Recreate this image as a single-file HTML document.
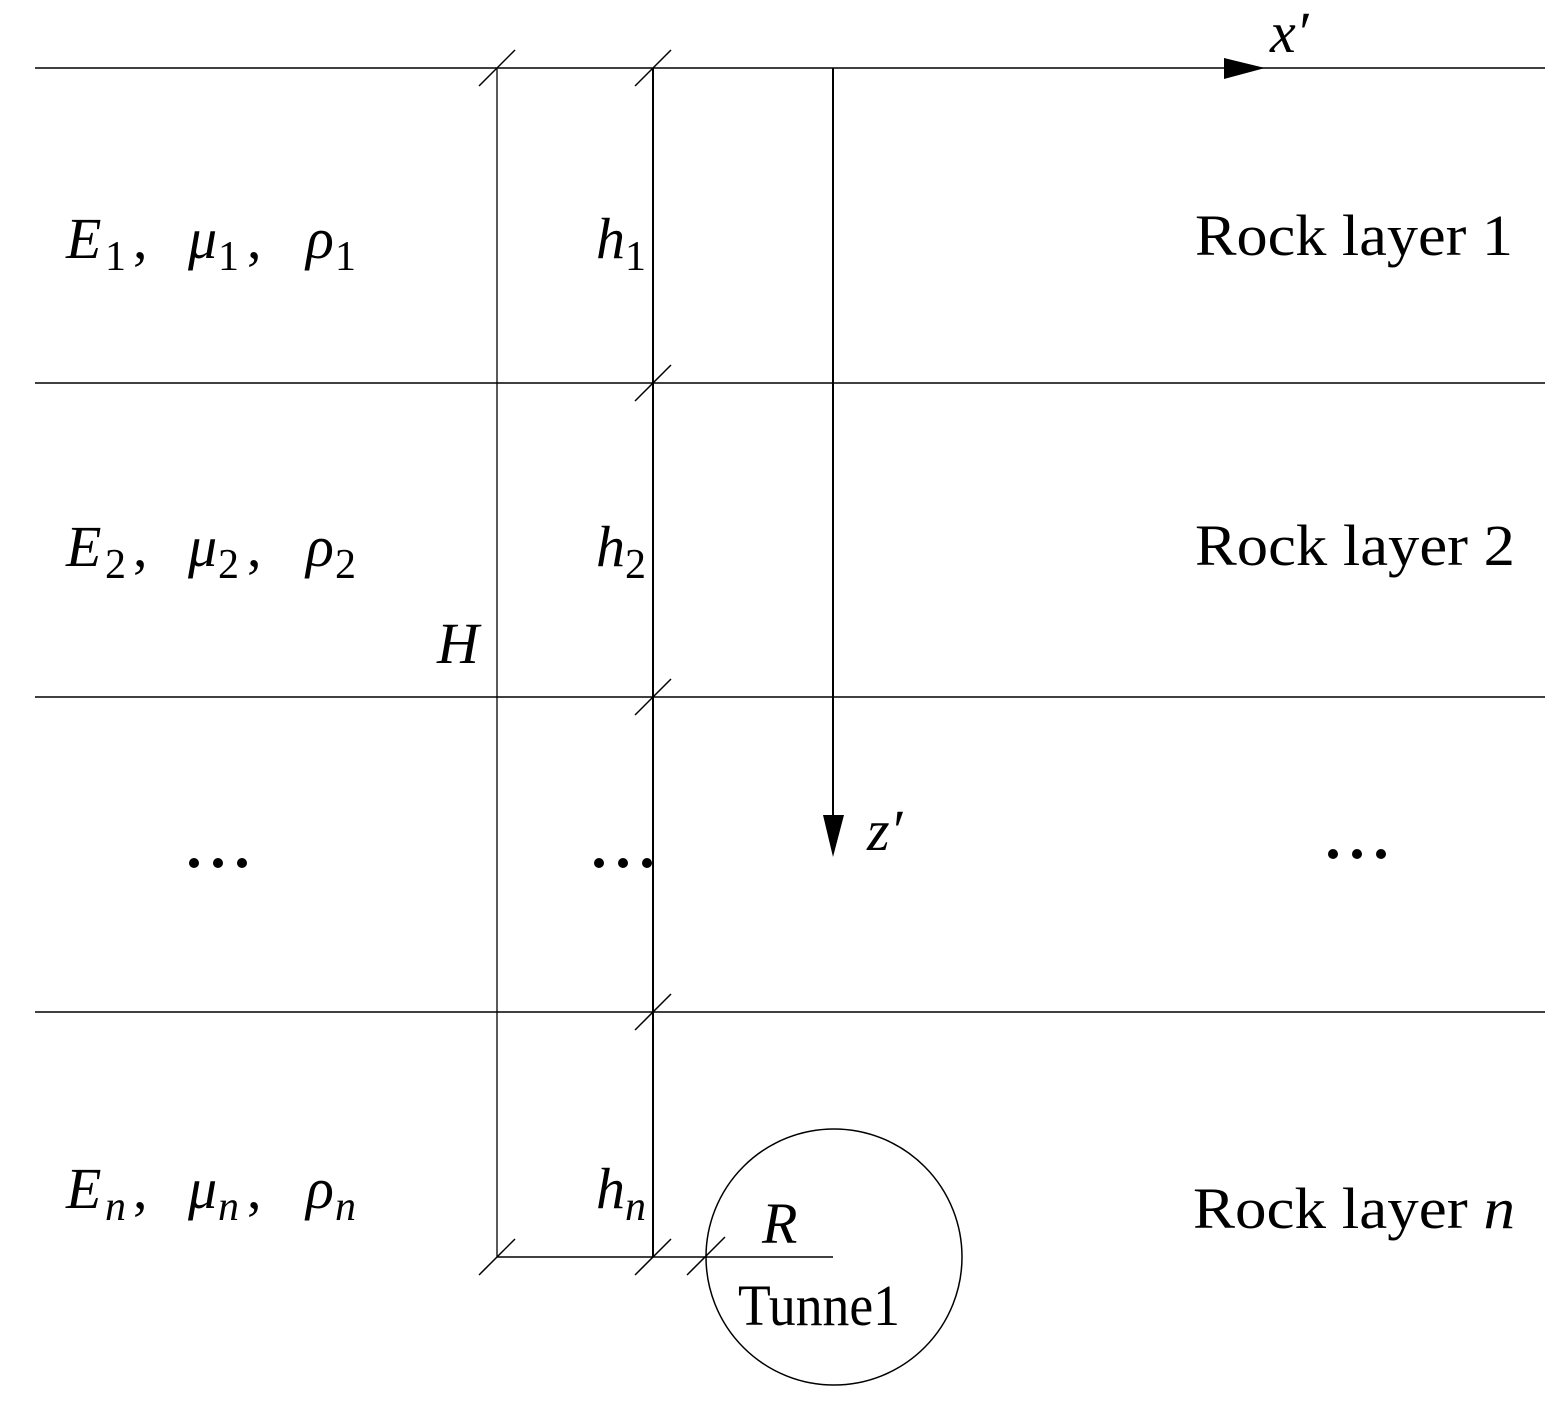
<!DOCTYPE html>
<html><head><meta charset="utf-8"><style>html,body{margin:0;padding:0;background:#fff}</style></head>
<body>
<svg width="1560" height="1411" viewBox="0 0 1560 1411" xmlns="http://www.w3.org/2000/svg" font-family="'Liberation Serif', serif" fill="#000">
<g stroke="#000" fill="none">
<line x1="35" y1="68" x2="1545" y2="68" stroke-width="1.5"/>
<line x1="35" y1="383" x2="1545" y2="383" stroke-width="1.5"/>
<line x1="35" y1="697" x2="1545" y2="697" stroke-width="1.5"/>
<line x1="35" y1="1012" x2="1545" y2="1012" stroke-width="1.5"/>
<line x1="497" y1="68" x2="497" y2="1257" stroke-width="1.3"/>
<line x1="653" y1="68" x2="653" y2="1257" stroke-width="2"/>
<line x1="497" y1="1257" x2="833" y2="1257" stroke-width="1.5"/>
<line x1="833" y1="68" x2="833" y2="820" stroke-width="2"/>
<g stroke-width="1.5">
<line x1="479" y1="86" x2="515" y2="50"/>
<line x1="635" y1="86" x2="671" y2="50"/>
<line x1="635" y1="401" x2="671" y2="365"/>
<line x1="635" y1="715" x2="671" y2="679"/>
<line x1="635" y1="1030" x2="671" y2="994"/>
<line x1="479" y1="1275" x2="515" y2="1239"/>
<line x1="635" y1="1275" x2="671" y2="1239"/>
<line x1="687" y1="1275" x2="725" y2="1237"/>
</g>
<circle cx="834" cy="1257" r="128" stroke-width="1.5"/>
</g>
<polygon points="1224,58 1265,68 1224,79"/>
<polygon points="823,815 833,857 844,815"/>
<g font-size="58">
<text x="1270" y="52" font-style="italic">x′</text>
<text x="867" y="850" font-style="italic">z′</text>
<text x="1195" y="255" textLength="318" lengthAdjust="spacingAndGlyphs">Rock layer 1</text>
<text x="1195" y="565" textLength="320" lengthAdjust="spacingAndGlyphs">Rock layer 2</text>
<text x="1193" y="1228" textLength="322" lengthAdjust="spacingAndGlyphs">Rock layer <tspan font-style="italic">n</tspan></text>
<text x="437" y="663" font-style="italic">H</text>
<text x="762" y="1243" font-style="italic">R</text>
<text x="738" y="1325" textLength="162" lengthAdjust="spacingAndGlyphs">Tunne1</text>
<text x="596" y="258" font-style="italic">h</text><text x="625" y="270" font-size="42">1</text>
<text x="596" y="566" font-style="italic">h</text><text x="625" y="578" font-size="42">2</text>
<text x="596" y="1208" font-style="italic">h</text><text x="625" y="1220" font-size="42" font-style="italic">n</text>
</g>
<g font-size="58">
<text x="66" y="258" font-style="italic">E</text><text x="105" y="270" font-size="42">1</text><text x="133" y="258">,</text>
<text x="188" y="258" font-style="italic">μ</text><text x="218" y="270" font-size="42">1</text><text x="247" y="258">,</text>
<text x="306" y="258" font-style="italic">ρ</text><text x="335" y="270" font-size="42">1</text>
<text x="66" y="566" font-style="italic">E</text><text x="105" y="578" font-size="42">2</text><text x="133" y="566">,</text>
<text x="188" y="566" font-style="italic">μ</text><text x="218" y="578" font-size="42">2</text><text x="247" y="566">,</text>
<text x="306" y="566" font-style="italic">ρ</text><text x="335" y="578" font-size="42">2</text>
<text x="66" y="1208" font-style="italic">E</text><text x="105" y="1220" font-size="42" font-style="italic">n</text><text x="133" y="1208">,</text>
<text x="188" y="1208" font-style="italic">μ</text><text x="218" y="1220" font-size="42" font-style="italic">n</text><text x="247" y="1208">,</text>
<text x="306" y="1208" font-style="italic">ρ</text><text x="335" y="1220" font-size="42" font-style="italic">n</text>
</g>
<g>
<circle cx="194" cy="863" r="5"/><circle cx="218" cy="863" r="5"/><circle cx="242" cy="863" r="5"/>
<circle cx="599" cy="863" r="5"/><circle cx="623" cy="863" r="5"/><circle cx="647" cy="863" r="5"/>
<circle cx="1333" cy="854" r="5"/><circle cx="1357" cy="854" r="5"/><circle cx="1381" cy="854" r="5"/>
</g>
</svg>
</body></html>
